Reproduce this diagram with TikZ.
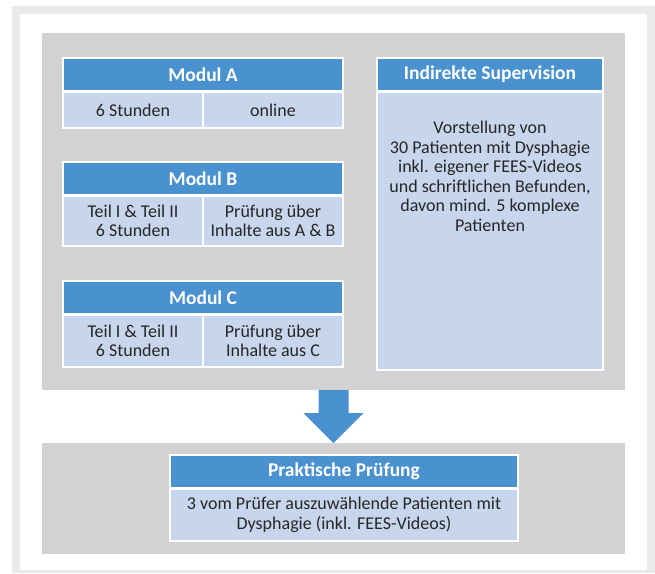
\documentclass[tikz,border=0pt]{standalone}
\usepackage{fontspec}
\setmainfont{Carlito}
\usetikzlibrary{positioning,calc}

\definecolor{hdrblue}{RGB}{74,145,208}
\definecolor{cellblue}{RGB}{199,214,236}
\definecolor{panelgray}{RGB}{210,210,210}
\definecolor{framegray}{RGB}{234,234,237}

\begin{document}
\begin{tikzpicture}[
        x=1pt, y=-1pt,
        every node/.style={inner sep=0pt, outer sep=0pt, align=center},
        header/.style={fill=hdrblue, draw=white, line width=1.5pt, text=white, minimum height=33pt, font=\fontsize{19.5}{21}\selectfont\bfseries},
        cell/.style={fill=cellblue, draw=white, line width=1.5pt, text=black!85, font=\fontsize{18}{19.5}\selectfont},
        panel/.style={fill=panelgray, minimum width=583pt},
        node distance=1pt and 0pt
    ]

    % Frame
    \useasboundingbox (0,0) rectangle (655,573);
    \fill[white] (0,0) rectangle (655,573);
    \fill[framegray] (12,6) rectangle (655,573);
    \fill[white] (20,14) rectangle (647,570);

    % Panels
    \node[panel, minimum height=357pt] (top) at (333.5,211.5) {};
    \node[panel, minimum height=111pt] (bottom) at (333.5,498.5) {};

    % Nodes
    \node[header, anchor=north west, minimum width=280pt] (modA) at (63,58) {Modul A};
    \node[cell, below right=of modA.south west, minimum width=140pt, minimum height=36pt] (modAl) {6 Stunden};
    \node[cell, right=0pt of modAl, minimum width=140pt, minimum height=36pt] (modAr) {online};

    \node[header, anchor=north west, minimum width=280pt] (modB) at (63,162) {Modul B};
    \node[cell, below right=of modB.south west, minimum width=140pt, minimum height=50pt] (modBl) {Teil I \& Teil II\\6 Stunden};
    \node[cell, right=0pt of modBl, minimum width=140pt, minimum height=50pt] (modBr) {Prüfung über\\Inhalte aus A \& B};

    \node[header, anchor=north west, minimum width=280pt] (modC) at (63,281) {Modul C};
    \node[cell, below right=of modC.south west, minimum width=140pt, minimum height=52pt] (modCl) {Teil I \& Teil II\\6 Stunden};
    \node[cell, right=0pt of modCl, minimum width=140pt, minimum height=52pt] (modCr) {Prüfung über\\Inhalte aus C};

    \node[header, anchor=north west, minimum width=226pt] (superv) at (377,58) {Indirekte Supervision};
    \node[cell, below right=of superv.south west, minimum width=226pt, minimum height=278pt] (supbody) {};
    \node[cell, draw=none, fill=none, below=29pt of supbody.north] (suptext) {Vorstellung von\\30 Patienten mit Dysphagie\\inkl. eigener FEES-Videos\\und schriftlichen Befunden,\\davon mind. 5 komplexe\\Patienten};

    \node[header, anchor=north west, minimum width=348pt] (praxis) at (170,455) {Praktische Prüfung};
    \node[cell, below right=of praxis.south west, minimum width=348pt, minimum height=52pt] (praxbody) {3 vom Prüfer auszuwählende Patienten mit\\Dysphagie (inkl. FEES-Videos)};

    % Edges
    \fill[hdrblue] ($(top.south)+(-15,0)$) -- ($(top.south)+(15,0)$) -- ($(top.south)+(15,23)$)
        -- ($(top.south)+(30,23)$) -- (bottom.north) -- ($(top.south)+(-30,23)$)
        -- ($(top.south)+(-15,23)$) -- cycle;

\end{tikzpicture}
\end{document}
